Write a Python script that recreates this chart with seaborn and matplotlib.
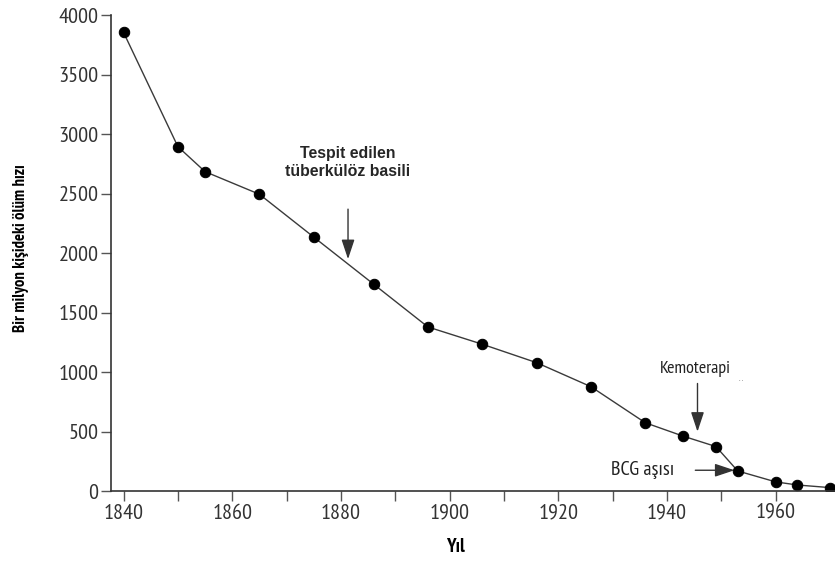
import matplotlib
matplotlib.use("Agg")
import matplotlib.pyplot as plt
from matplotlib import font_manager as fm
import seaborn as sns
import pandas as pd

years = [1840, 1850, 1855, 1865, 1875, 1886, 1896, 1906, 1916, 1926, 1936, 1943, 1949, 1953, 1960, 1964, 1970]
rates = [3855, 2895, 2685, 2495, 2135, 1740, 1380, 1235, 1080, 878, 575, 462, 375, 170, 78, 52, 30]
xticks_major = [1840, 1860, 1880, 1900, 1920, 1940, 1960]
xticks_all = list(range(1840, 1970, 10))
yticks = [0, 500, 1000, 1500, 2000, 2500, 3000, 3500, 4000]

df = pd.DataFrame({"Yıl": years, "rate": rates})

available = set(f.name for f in fm.fontManager.ttflist)


def pick(cands, default="DejaVu Sans"):
    for c in cands:
        if c in available:
            return c
    return default


narrow = pick(["PT Sans Narrow", "Roboto Condensed", "Open Sans Condensed", "Fira Sans Condensed",
               "Archivo Narrow", "IBM Plex Sans Condensed"])

sns.set_style("ticks")
plt.rcParams['font.family'] = [narrow, 'DejaVu Sans']

fig = plt.figure(figsize=(8.35, 5.62), dpi=100)
ax = fig.add_axes([0.133, 0.126, 0.867, 0.847])

sns.lineplot(data=df, x="Yıl", y="rate", ax=ax, color="#3a3a3a", linewidth=1.0,
             marker="o", markersize=7.5, markerfacecolor="black", markeredgecolor="black")

ax.set_xlim(1837.7, 1970.9)
ax.set_ylim(0, 4000)
ax.set_xticks(xticks_all)
ax.set_xticklabels([str(t) if t in xticks_major else "" for t in xticks_all])
ax.set_yticks(yticks)
ax.set_yticklabels([str(t) for t in yticks])
sns.despine(ax=ax)
for s in ["left", "bottom"]:
    ax.spines[s].set_color("#333333")
    ax.spines[s].set_linewidth(1.2)
ax.tick_params(axis="both", direction="out", length=7.5, width=1.0, color="#555555",
               labelsize=16, labelcolor="#333333")
ax.tick_params(axis="x", pad=1.5)
ax.tick_params(axis="y", pad=1.5)

ax.set_xlabel("Yıl", fontsize=14, fontweight="bold", color="black")
ax.xaxis.set_label_coords(455 / 835, 1 - 547 / 562, transform=fig.transFigure)
ax.xaxis.label.set_va("center")
ax.set_ylabel("Bir milyon kişideki ölüm hızı", fontsize=12, fontweight="bold", color="black")
ax.yaxis.set_label_coords(21 / 835, 1 - 248 / 562, transform=fig.transFigure)
ax.yaxis.label.set_va("center")

arrow_style = "-|>,head_length=0.6,head_width=0.2"

# Annotations
ax.text(1881.3, 2765, "Tespit edilen\ntüberkülöz basili", ha="center", va="center",
        fontsize=11.4, fontweight="bold", family=["Liberation Sans", "DejaVu Sans"], linespacing=1.25)
ax.annotate("", xy=(1881.3, 1950), xytext=(1881.3, 2370),
            arrowprops=dict(arrowstyle=arrow_style, color="#333333", lw=1.0, mutation_scale=20,
                            shrinkA=0, shrinkB=0))

ax.text(1945.3, 1030, "Kemoterapi", ha="center", va="center", fontsize=13, color="#222222")
ax.text(1953.2, 935, ". .", ha="left", va="center", fontsize=6, color="#777777")
ax.annotate("", xy=(1945.6, 500), xytext=(1945.6, 905),
            arrowprops=dict(arrowstyle=arrow_style, color="#333333", lw=1.0, mutation_scale=20,
                            shrinkA=0, shrinkB=0))

ax.text(1935.5, 176, "BCG aşısı", ha="center", va="center", fontsize=14.5, color="#222222")
ax.annotate("", xy=(1952.4, 176), xytext=(1945.2, 176),
            arrowprops=dict(arrowstyle=arrow_style, color="#333333", lw=1.0, mutation_scale=20,
                            shrinkA=0, shrinkB=0))

fig.savefig("out.png", dpi=100)
